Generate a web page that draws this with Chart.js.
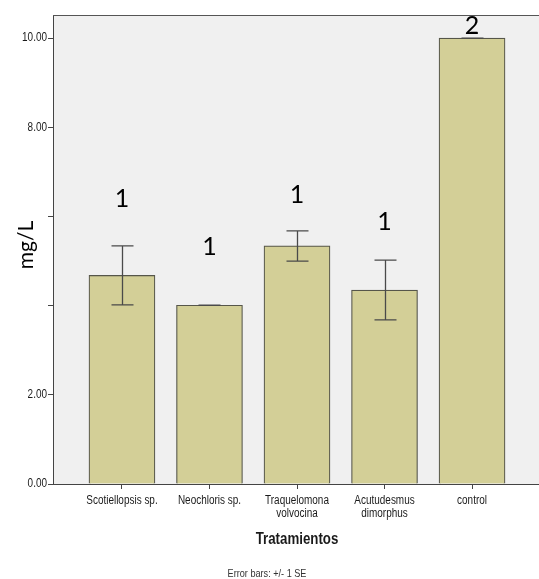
<!DOCTYPE html>
<html>
<head>
<meta charset="utf-8">
<script src="https://cdn.jsdelivr.net/npm/chart.js@4/dist/chart.umd.min.js"></script>
<style>
  html, body { margin: 0; padding: 0; background: #ffffff; overflow: hidden; }
  #wrap { width: 545px; height: 579px; }
</style>
</head>
<body>
<div id="wrap"><canvas id="c" width="545" height="579"></canvas></div>
<script>
// Treatments on the category axis
const categories = ['Scotiellopsis sp.', 'Neochloris sp.', ['Traquelomona', 'volvocina'], ['Acutudesmus', 'dimorphus'], 'control'];
// Mean concentration (mg/L) and standard error for each treatment
const means = [4.68, 4.01, 5.34, 4.35, 10.0];
const stdErr = [0.66, 0.0, 0.34, 0.67, 0.0];
// Significance group letters and the height (mg/L) where each is written
const groupLetters = ['1', '1', '1', '1', '2'];
const letterHeights = [6.39, 5.31, 6.48, 5.87, 10.27];
// Value axis ticks; only some of them carry a label
const yTicks = [0, 2, 4, 6, 8, 10];
const yLabelled = [0, 2, 8, 10];

const SANS = '"Liberation Sans", Arial, sans-serif';
const HUMAN = 'Lato, "Open Sans", sans-serif';
const SQUEEZE = 0.83; // horizontal compression for the condensed axis lettering

// write text squeezed horizontally around its anchor point
function narrowText(ctx, text, x, y, align) {
  ctx.save();
  ctx.translate(x, y);
  ctx.scale(SQUEEZE, 1);
  ctx.textAlign = align;
  ctx.fillText(text, 0, 0);
  ctx.restore();
}

const panelPlugin = {
  id: 'panel',
  beforeDraw(chart) {
    const { ctx, chartArea: a } = chart;
    ctx.save();
    ctx.fillStyle = '#f0f0f0';
    ctx.fillRect(a.left, a.top, a.right - a.left, a.bottom - a.top);
    ctx.restore();
  },
  afterDraw(chart) {
    const { ctx, chartArea: a } = chart;
    ctx.save();
    ctx.strokeStyle = '#555555';
    ctx.lineWidth = 1;
    ctx.beginPath();
    ctx.moveTo(a.left, a.top + 0.5);
    ctx.lineTo(a.right, a.top + 0.5);
    ctx.lineTo(a.right, a.bottom);
    ctx.stroke();
    ctx.restore();
  }
};

const errorBarPlugin = {
  id: 'errorBars',
  afterDatasetsDraw(chart) {
    const { ctx } = chart;
    const x = chart.scales.x, y = chart.scales.y;
    ctx.save();
    ctx.strokeStyle = '#4a4a4a';
    ctx.lineWidth = 1.3;
    means.forEach((m, i) => {
      const px = Math.round(x.getPixelForValue(i)) + 0.5;
      const top = y.getPixelForValue(m + stdErr[i]);
      const bot = y.getPixelForValue(m - stdErr[i]);
      const half = 11;
      ctx.beginPath();
      ctx.moveTo(px, top); ctx.lineTo(px, bot);
      ctx.moveTo(px - half, top); ctx.lineTo(px + half, top);
      ctx.moveTo(px - half, bot); ctx.lineTo(px + half, bot);
      ctx.stroke();
    });
    ctx.restore();
  }
};

const textPlugin = {
  id: 'texts',
  afterDraw(chart) {
    const { ctx, chartArea: a } = chart;
    const x = chart.scales.x, y = chart.scales.y;
    ctx.save();
    ctx.textBaseline = 'middle';

    // category tick labels
    ctx.fillStyle = '#1a1a1a';
    ctx.font = '12px ' + SANS;
    x.ticks.forEach((t) => {
      const lines = [].concat(categories[t.value]);
      const px = x.getPixelForValue(t.value);
      lines.forEach((ln, k) => narrowText(ctx, ln, px, x.top + 17 + k * 12.5, 'center'));
    });

    // value tick labels
    y.ticks.forEach((t) => {
      if (!yLabelled.includes(t.value)) return;
      narrowText(ctx, t.value.toFixed(2), y.right - 6, y.getPixelForValue(t.value), 'right');
    });

    // group letters
    ctx.fillStyle = '#000000';
    ctx.font = '25px ' + HUMAN;
    ctx.textAlign = 'center';
    groupLetters.forEach((t, i) => {
      ctx.fillText(t, x.getPixelForValue(i), y.getPixelForValue(letterHeights[i]));
    });

    // value axis title
    ctx.save();
    ctx.translate(26, 245);
    ctx.rotate(-Math.PI / 2);
    ctx.font = '21px ' + HUMAN;
    ctx.fillText('mg/L', 0, 0);
    ctx.restore();

    // category axis title
    ctx.fillStyle = '#1a1a1a';
    ctx.font = 'bold 16px ' + SANS;
    narrowText(ctx, 'Tratamientos', (a.left + a.right) / 2, 540, 'center');

    // footnote
    ctx.fillStyle = '#333333';
    ctx.font = '11px ' + SANS;
    narrowText(ctx, 'Error bars: +/- 1 SE', 267, 574, 'center');
    ctx.restore();
  }
};

new Chart(document.getElementById('c'), {
  type: 'bar',
  data: {
    datasets: [{
      data: means.map((v, i) => ({ x: i, y: v })),
      backgroundColor: '#d3cf97',
      borderColor: '#56564a',
      borderWidth: 1.2,
      barThickness: 66
    }]
  },
  options: {
    responsive: false,
    devicePixelRatio: 1,
    animation: false,
    layout: { padding: { top: 15, left: 0, right: 4, bottom: 0 } },
    plugins: { legend: { display: false }, tooltip: { enabled: false }, title: { display: false } },
    scales: {
      x: {
        type: 'linear',
        min: -0.788,
        max: 4.788,
        offset: false,
        afterBuildTicks(scale) { scale.ticks = categories.map((c, i) => ({ value: i })); },
        afterFit(scale) { scale.height = 95; },
        grid: { drawOnChartArea: false, offset: false, tickLength: 5, color: '#444444' },
        border: { color: '#444444', width: 1 },
        ticks: { display: false, autoSkip: false }
      },
      y: {
        min: 0,
        max: 10.52,
        afterBuildTicks(scale) { scale.ticks = yTicks.map(v => ({ value: v })); },
        afterFit(scale) { scale.width = 53; },
        grid: { drawOnChartArea: false, tickLength: 5, color: '#444444' },
        border: { color: '#444444', width: 1 },
        ticks: { display: false }
      }
    }
  },
  plugins: [panelPlugin, errorBarPlugin, textPlugin]
});
</script>
</body>
</html>
